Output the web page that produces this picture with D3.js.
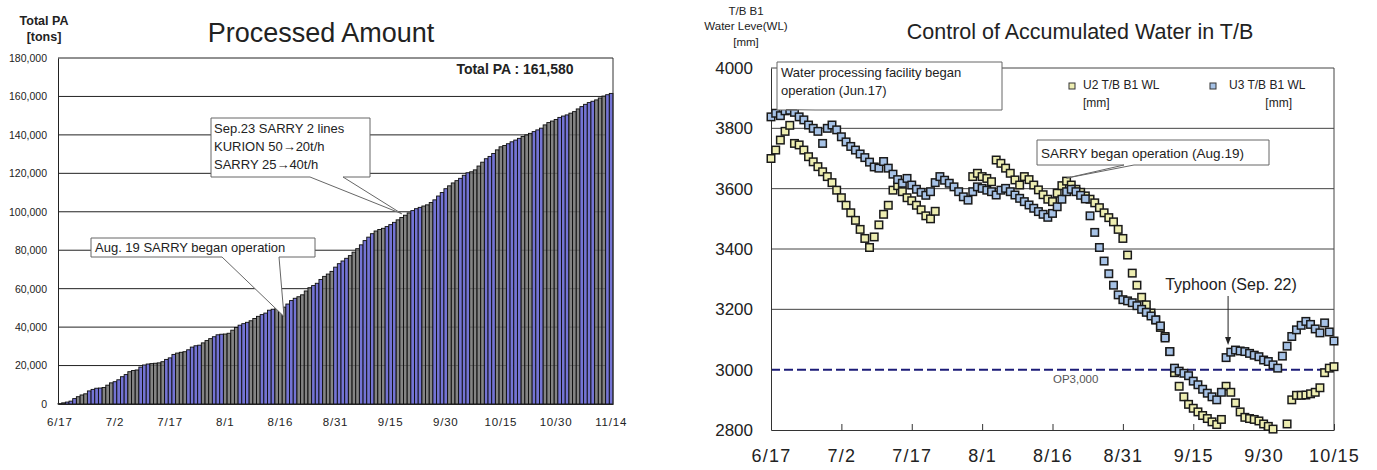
<!DOCTYPE html>
<html>
<head>
<meta charset="utf-8">
<script src="https://cdn.jsdelivr.net/npm/d3@7"></script>
<style>
  body { margin: 0; background: #fff; }
  svg { display: block; }
  text { font-family: "Liberation Sans", Arial, sans-serif; }
</style>
</head>
<body>
<div id="chart"></div>
<script>
// ---- left chart: cumulative processed amount, one bar per day 6/17 .. 11/14 ----
const paFirstDay = "6/17";
const paLastDay = "11/14";
const paTotal = [
  200, 600, 1000, 1500, 2800, 3800, 4700, 5300, 6800, 7600,
  8200, 8300, 8600, 9800, 11000, 11600, 12600, 14200, 15300, 16800,
  17400, 17700, 19200, 20300, 20800, 21000, 21200, 21400, 22000, 23200,
  24000, 25800, 26500, 26900, 27200, 28200, 29600, 30300, 30600, 31800,
  33000, 34000, 35000, 36000, 36300, 36400, 36800, 38400, 39800, 41000,
  41800, 42500, 43300, 44500, 45600, 46500, 47300, 48800, 49300, 49600,
  49800, 50400, 52000, 53800, 55000, 55800, 56800, 58800, 60500, 61600,
  62800, 64800, 66400, 67600, 69000, 71200, 73000, 74400, 75800, 77200,
  79000, 80800, 82800, 85000, 86800, 88600, 90000, 90800, 91400, 92300,
  93300, 94500, 95800, 97000, 98200, 99400, 100600, 101600, 102300, 103000,
  103600, 104800, 106200, 108200, 110000, 112000, 113500, 115000, 116200, 117400,
  119000, 120300, 120800, 121800, 123800, 125800, 127600, 128800, 130300, 132200,
  133800, 134500, 135400, 136400, 137300, 138200, 139200, 140000, 140800, 141700,
  142600, 143500, 145200, 146400, 147200, 148000, 149100, 149800, 150400, 151300,
  152100, 153500, 154700, 155900, 156800, 157500, 158200, 159200, 160200, 160900,
  161580
];
const paTickLabels = ["6/17", "7/2", "7/17", "8/1", "8/16", "8/31", "9/15", "9/30", "10/15", "10/30", "11/14"];
const paYTicks = [0, 20000, 40000, 60000, 80000, 100000, 120000, 140000, 160000, 180000];

// ---- right chart: T/B B1 water level, daily 6/17 .. 10/15 ----
const wlFirstDay = "6/17";
const wlLastDay = "10/15";
const u2Level = [
  3700, 3728, 3761, 3790, 3810, 3750, 3745, 3728, 3706, 3689,
  3673, 3656, 3640, 3620, 3595, 3570, 3545, 3520, 3495, 3465,
  3435, 3405, 3440, 3480, 3515, 3545, 3595, 3610, 3590, 3570,
  3560, 3545, 3530, 3510, 3500, 3525, null, null, null, null,
  null, null, null, 3640, 3651, 3640, 3634, 3623, 3695, 3684,
  3668, 3651, 3629, 3612, 3640, 3630, 3612, 3596, 3580, 3565,
  3557, 3585, 3610, 3625, 3612, 3598, 3588, 3576, 3565, 3553,
  3537, 3520, 3504, 3490, 3465, 3435, 3380, 3320, 3280, 3240,
  3215, 3188, 3165, 3140, 3110, 3060, 2990, 2945, 2910, 2885,
  2872, 2860, 2848, 2838, 2827, 2818, 2835, 2945, 2925, 2890,
  2860, 2842, 2838, 2835, 2830, 2820, 2812, 2803, null, null,
  2820, 2900, 2915, 2915, 2916, 2920, 2925, 2940, 2990, 3005,
  3010
];
const u3Level = [
  3838, 3850, 3842, 3858, 3860, 3853, 3838, 3828, 3811, 3800,
  3790, 3750, 3800, 3811, 3795, 3772, 3755, 3740, 3728, 3715,
  3703, 3688, 3672, 3668, 3690, 3668, 3648, 3630, 3618, 3634,
  3612, 3598, 3588, 3578, 3590, 3620, 3640, 3628, 3618, 3606,
  3590, 3573, 3562, 3590, 3606, 3601, 3595, 3590, 3579, 3595,
  3601, 3590, 3579, 3568, 3557, 3546, 3535, 3524, 3515, 3505,
  3518, 3540, 3565, 3590, 3598, 3590, 3578, 3566, 3510, 3455,
  3405, 3360, 3318, 3280, 3248, 3232, 3228, 3222, 3212, 3200,
  3190, 3178, 3165, 3145, 3105, 3060, 3005, 2995, 2988, 2980,
  2962, 2950, 2935, 2922, 2910, 2900, 2925, 3040, 3058, 3065,
  3062, 3060, 3054, 3048, 3043, 3032, 3027, 3016, 3005, 3045,
  3078, 3110, 3132, 3147, 3160, 3150, 3135, 3122, 3155, 3125,
  3095
];
const wlTickLabels = ["6/17", "7/2", "7/17", "8/1", "8/16", "8/31", "9/15", "9/30", "10/15"];
const wlYTicks = [2800, 3000, 3200, 3400, 3600, 3800, 4000];
const opLevel = 3000;

const parseDay = s => d3.timeParse("%m/%d/%Y")(s + "/2011");
const dayLabel = d3.timeFormat("%-m/%-d");

const svg = d3.select("#chart").append("svg")
    .attr("width", 1377)
    .attr("height", 470);

svg.append("rect").attr("width", 1377).attr("height", 470).attr("fill", "#fff");

// callout = white box plus a wedge pointing at (tx, ty)
function callout(g, box, w1, w2, tx, ty) {
    const [x0, y0, x1, y1] = box;
    g.append("path")
        .attr("d", `M${x0},${y0}H${x1}V${y1}H${w2}L${tx},${ty}L${w1},${y1}H${x0}Z`)
        .attr("fill", "#fff")
        .attr("stroke", "#666")
        .attr("stroke-width", 1);
}

// ================= Processed Amount =================
(function () {
    const left = 58, right = 613, top = 58, bottom = 404;
    const days = d3.timeDay.range(parseDay(paFirstDay), d3.timeDay.offset(parseDay(paLastDay), 1));

    const x = d3.scaleBand().domain(days).range([left, right]).padding(0);
    const y = d3.scaleLinear().domain([0, 180000]).range([bottom, top]);
    const g = svg.append("g");

    // gridlines
    g.selectAll(".grid")
        .data(paYTicks.filter(v => v > 0))
        .join("line")
        .attr("x1", left).attr("x2", right)
        .attr("y1", d => y(d)).attr("y2", d => y(d))
        .attr("stroke", "#222").attr("stroke-width", 1);

    // bars (the blue / grey banding of the original)
    const isBlue = i => Math.floor((i + 59) / 3.35) % 2 === 0;
    g.selectAll(".bar")
        .data(paTotal)
        .join("rect")
        .attr("x", (d, i) => x(days[i]))
        .attr("width", x.bandwidth())
        .attr("y", d => y(d))
        .attr("height", d => y(0) - y(d))
        .attr("fill", (d, i) => isBlue(i) ? "#7474d4" : "#6f6f6f")
        .attr("fill-opacity", (d, i) => isBlue(i) ? 1 : 0.85)
        .attr("stroke", "#0d0d0d")
        .attr("stroke-width", 0.9);

    // frame
    g.append("line").attr("x1", right).attr("x2", right).attr("y1", top).attr("y2", bottom)
        .attr("stroke", "#333");

    // axes
    const yAxis = g.append("g")
        .attr("transform", `translate(${left},0)`)
        .call(d3.axisLeft(y).tickValues(paYTicks).tickSize(0).tickSizeOuter(0).tickPadding(11)
            .tickFormat(d3.format(",")));
    yAxis.select(".domain").attr("stroke", "#222");
    yAxis.selectAll("text").attr("font-size", 10.5).attr("fill", "#222")
        .attr("font-family", "'Liberation Sans', Arial, sans-serif");

    const xAxis = g.append("g")
        .attr("transform", `translate(0,${bottom})`)
        .call(d3.axisBottom(x).tickValues(paTickLabels.map(parseDay)).tickSize(0).tickSizeOuter(0)
            .tickPadding(14).tickFormat(dayLabel));
    xAxis.select(".domain").attr("stroke", "#222");
    xAxis.selectAll("text").attr("font-size", 11.5).attr("fill", "#222")
        .attr("letter-spacing", 0.8)
        .attr("font-family", "'Liberation Sans', Arial, sans-serif");

    // titles
    g.append("text").attr("x", 321).attr("y", 42).attr("text-anchor", "middle")
        .attr("font-size", 27).attr("fill", "#222").text("Processed Amount");
    g.append("text").attr("x", 44).attr("y", 25).attr("text-anchor", "middle")
        .attr("font-size", 12.5).attr("font-weight", "bold").attr("fill", "#222").text("Total PA");
    g.append("text").attr("x", 44).attr("y", 41).attr("text-anchor", "middle")
        .attr("font-size", 12.5).attr("font-weight", "bold").attr("fill", "#222").text("[tons]");
    g.append("text").attr("x", 515).attr("y", 74).attr("text-anchor", "middle")
        .attr("font-size", 14).attr("font-weight", "bold").attr("fill", "#222")
        .text("Total PA : " + d3.format(",")(paTotal[paTotal.length - 1]));

    // callouts
    const mid = d => x(parseDay(d)) + x.bandwidth() / 2;
    callout(g, [211, 118, 370, 177], 310, 343, mid("9/18"), y(99000));
    const c1 = g.append("text").attr("font-size", 13).attr("fill", "#222");
    ["Sep.23 SARRY 2 lines", "KURION 50\u219220t/h", "SARRY 25\u219240t/h"].forEach((t, i) => {
        c1.append("tspan").attr("x", 214).attr("y", 133 + i * 18).text(t);
    });

    callout(g, [91, 238, 315, 257], 222, 279, mid("8/17"), y(45500));
    g.append("text").attr("x", 95).attr("y", 252).attr("font-size", 13).attr("fill", "#222")
        .text("Aug. 19 SARRY began operation");
})();

// ================= Control of Accumulated Water in T/B =================
(function () {
    const left = 771, right = 1334, top = 68, bottom = 430;
    const start = parseDay(wlFirstDay);
    const x = d3.scaleTime().domain([start, parseDay(wlLastDay)]).range([left, right]);
    const y = d3.scaleLinear().domain([2800, 4000]).range([bottom, top]);
    const g = svg.append("g");

    // gridlines and frame
    g.selectAll(".grid")
        .data(wlYTicks.filter(v => v > 3000))
        .join("line")
        .attr("x1", left).attr("x2", right)
        .attr("y1", d => y(d)).attr("y2", d => y(d))
        .attr("stroke", "#444").attr("stroke-width", 1);
    g.append("line").attr("x1", right).attr("x2", right).attr("y1", top).attr("y2", bottom)
        .attr("stroke", "#444");

    // operating level
    g.append("line")
        .attr("x1", left).attr("x2", right)
        .attr("y1", y(opLevel)).attr("y2", y(opLevel))
        .attr("stroke", "#1c1c78").attr("stroke-width", 2)
        .attr("stroke-dasharray", "9,4");
    g.append("text").attr("x", 1053).attr("y", y(opLevel) + 13)
        .attr("font-size", 11.5).attr("fill", "#555").text("OP3,000");

    // axes
    const yAxis = g.append("g")
        .attr("transform", `translate(${left},0)`)
        .call(d3.axisLeft(y).tickValues(wlYTicks).tickSize(0).tickSizeOuter(0).tickPadding(18)
            .tickFormat(d3.format("d")));
    yAxis.select(".domain").attr("stroke", "#333");
    yAxis.selectAll("text").attr("font-size", 17).attr("fill", "#222")
        .attr("font-family", "'Liberation Sans', Arial, sans-serif");

    const xAxis = g.append("g")
        .attr("transform", `translate(0,${bottom})`)
        .call(d3.axisBottom(x).tickValues(wlTickLabels.map(parseDay)).tickSize(-6).tickSizeOuter(0)
            .tickPadding(19).tickFormat(dayLabel));
    xAxis.select(".domain").attr("stroke", "#333");
    xAxis.selectAll("line").attr("stroke", "#333");
    xAxis.selectAll("text").attr("font-size", 18).attr("fill", "#222")
        .attr("letter-spacing", 1.2)
        .attr("font-family", "'Liberation Sans', Arial, sans-serif");

    // markers
    const s = 7.5;
    const series = [
        { values: u2Level, fill: "#eeeeb2" },
        { values: u3Level, fill: "#a6c2e6" }
    ];
    series.forEach(sr => {
        g.append("g").selectAll("rect")
            .data(sr.values.map((v, i) => ({ day: d3.timeDay.offset(start, i), v })).filter(d => d.v != null))
            .join("rect")
            .attr("x", d => x(d.day) - s / 2)
            .attr("y", d => y(d.v) - s / 2)
            .attr("width", s).attr("height", s)
            .attr("fill", sr.fill)
            .attr("stroke", "#1a1a1a").attr("stroke-width", 1.5);
    });

    // titles
    g.append("text").attr("x", 1080).attr("y", 39).attr("text-anchor", "middle")
        .attr("font-size", 21.5).attr("fill", "#222").text("Control of Accumulated Water in T/B");
    [["T/B B1", 15], ["Water Leve(WL)", 30], ["[mm]", 46]].forEach(([t, yy]) => {
        g.append("text").attr("x", 746).attr("y", yy).attr("text-anchor", "middle")
            .attr("font-size", 11.5).attr("fill", "#222").text(t);
    });

    // legend
    const legend = [
        { fill: "#eeeeb2", sx: 1069, lines: [["U2 T/B B1 WL", 1083, "start"], ["[mm]", 1083, "start"]] },
        { fill: "#a6c2e6", sx: 1210, lines: [["U3 T/B B1 WL", 1229, "start"], ["[mm]", 1292, "end"]] }
    ];
    legend.forEach(l => {
        g.append("rect").attr("x", l.sx).attr("y", 83).attr("width", 6).attr("height", 6)
            .attr("fill", l.fill).attr("stroke", "#333").attr("stroke-width", 1);
        l.lines.forEach(([t, xx, anchor], i) => {
            g.append("text").attr("x", xx).attr("y", 89 + i * 18).attr("text-anchor", anchor)
                .attr("font-size", 12).attr("fill", "#222").text(t);
        });
    });

    // callouts
    callout(g, [777, 62, 1002, 110], 797, 815, x(start) + 15, y(3862));
    const c1 = g.append("text").attr("font-size", 13).attr("fill", "#222");
    ["Water processing facility began", "operation (Jun.17)"].forEach((t, i) => {
        c1.append("tspan").attr("x", 781).attr("y", 77 + i * 18).text(t);
    });

    callout(g, [1037, 140, 1269, 165], 1124, 1134, x(parseDay("8/19")), y(3635));
    g.append("text").attr("x", 1041).attr("y", 158).attr("font-size", 13.5).attr("fill", "#222")
        .text("SARRY began operation (Aug.19)");

    // typhoon note
    const tx = x(parseDay("9/22")) + 2;
    g.append("text").attr("x", 1231).attr("y", 290).attr("text-anchor", "middle")
        .attr("font-size", 16).attr("fill", "#222").text("Typhoon (Sep. 22)");
    g.append("line").attr("x1", tx).attr("x2", tx).attr("y1", 296).attr("y2", 338)
        .attr("stroke", "#222").attr("stroke-width", 1);
    g.append("path").attr("d", `M${tx - 3},${337}L${tx + 3},${337}L${tx},${345}Z`).attr("fill", "#222");
})();
</script>
</body>
</html>
